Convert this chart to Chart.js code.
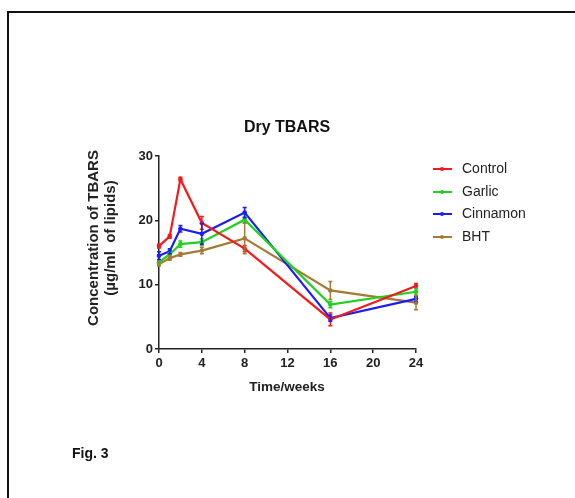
<!DOCTYPE html>
<html><head><meta charset="utf-8">
<script src="https://cdn.jsdelivr.net/npm/chart.js@4/dist/chart.umd.min.js"></script>
<style>
html,body{margin:0;padding:0;background:#fff;width:575px;height:498px;overflow:hidden;font-family:"Liberation Sans",Arial,sans-serif;}
#frame{position:absolute;left:7px;top:11px;width:620px;height:620px;border:2px solid #111;box-sizing:border-box;}
#wrap{position:absolute;left:0;top:0;width:575px;height:498px;}
.t{position:absolute;white-space:pre;color:#111;}
#title{left:287px;top:127px;transform:translate(-50%,-50%);font-weight:bold;font-size:16px;}
#xt{left:287px;top:386px;transform:translate(-50%,-50%);font-weight:bold;font-size:13.5px;color:#222;}
#yt{left:101px;top:238px;transform:translate(-50%,-50%) rotate(-90deg);font-weight:bold;font-size:15px;text-align:center;line-height:17px;color:#222;}
#fig{left:72px;top:453px;transform:translateY(-50%);font-weight:bold;font-size:14px;}
.lg{position:absolute;left:433px;height:16px;transform:translateY(-50%);font-size:14px;color:#222;}
.lg .ln{position:absolute;left:0;top:7px;width:19px;height:2px;}
.lg .dt{position:absolute;left:7px;top:6px;width:4px;height:4px;border-radius:2px;}
.lg .tx{position:absolute;left:29px;top:-1px;white-space:pre;}
</style></head>
<body>
<div id="frame"></div>
<div id="wrap"><canvas id="c" width="575" height="498"></canvas></div>
<div class="t" id="title">Dry TBARS</div>
<div class="t" id="xt">Time/weeks</div>
<div class="t" id="yt">Concentration of TBARS
(µg/ml  of lipids)</div>
<div class="t" id="fig">Fig. 3</div>
<div id="legend"></div>
<script>
const weeks = [0, 1, 2, 4, 8, 16, 24];
const seriesNames = ["Control", "Garlic", "Cinnamon", "BHT"];
const control  = [16.0, 17.5, 26.4, 19.6, 15.6, 4.6, 9.8];
const garlic   = [13.5, 14.7, 16.3, 16.6, 20.1, 6.9, 8.9];
const cinnamon = [14.5, 15.2, 18.7, 17.9, 21.2, 4.8, 7.8];
const bht      = [13.2, 14.1, 14.7, 15.3, 17.2, 9.1, 7.2];
const controlErr  = [0.3, 0.3, 0.3, 1.0, 0.5, 1.0, 0.4];
const garlicErr   = [0.3, 0.3, 0.5, 0.5, 0.5, 0.5, 0.5];
const cinnamonErr = [0.6, 0.4, 0.5, 1.6, 0.8, 0.5, 0.4];
const bhtErr      = [0.3, 0.3, 0.3, 0.5, 2.4, 1.4, 1.1];
const yTicks = [0, 10, 20, 30];
const xTicks = [0, 4, 8, 12, 16, 20, 24];
const colors = ["#f01c1c", "#1ed21e", "#1c1cf5", "#a57a35"];

const values = [control, garlic, cinnamon, bht];
const errs = [controlErr, garlicErr, cinnamonErr, bhtErr];

const datasets = seriesNames.map((n, i) => ({
  label: n,
  data: weeks.map((w, j) => ({x: w, y: values[i][j]})),
  err: errs[i],
  borderColor: colors[i],
  backgroundColor: colors[i],
  borderWidth: 2.2,
  pointRadius: 2.3,
  pointBorderWidth: 0,
  tension: 0,
  clip: false
}));

const errorBars = {
  id: 'errorBars',
  afterDatasetsDraw(chart) {
    const ctx = chart.ctx, ys = chart.scales.y;
    chart.data.datasets.forEach((ds, i) => {
      const meta = chart.getDatasetMeta(i);
      ctx.save();
      ctx.strokeStyle = ds.borderColor;
      ctx.lineWidth = 1.5;
      meta.data.forEach((pt, j) => {
        const v = ds.data[j].y, e = ds.err[j];
        const yt = ys.getPixelForValue(v + e), yb = ys.getPixelForValue(v - e);
        ctx.beginPath();
        ctx.moveTo(pt.x, yt); ctx.lineTo(pt.x, yb);
        ctx.moveTo(pt.x - 2, yt); ctx.lineTo(pt.x + 2, yt);
        ctx.moveTo(pt.x - 2, yb); ctx.lineTo(pt.x + 2, yb);
        ctx.stroke();
      });
      ctx.restore();
    });
  }
};

const tickFont = {family: "'Liberation Sans', Arial, sans-serif", size: 13, weight: 'bold'};
new Chart(document.getElementById('c'), {
  type: 'line',
  data: {datasets},
  plugins: [errorBars],
  options: {
    responsive: false,
    animation: false,
    events: [],
    layout: {padding: {left: 0, top: 156, right: 159, bottom: 129}},
    plugins: {legend: {display: false}, title: {display: false}, tooltip: {enabled: false}},
    scales: {
      x: {
        type: 'linear', min: 0, max: 24,
        afterFit(s) { s.height = 20; },
        afterBuildTicks(s) { s.ticks = xTicks.map(v => ({value: v})); },
        ticks: {font: tickFont, color: '#222', padding: 3, maxRotation: 0, autoSkip: false},
        grid: {display: true, drawOnChartArea: false, drawTicks: true, tickLength: 4, color: '#222', lineWidth: 1.5},
        border: {display: true, color: '#222', width: 1.5}
      },
      y: {
        type: 'linear', min: 0, max: 30,
        afterFit(s) { s.width = 159; },
        afterBuildTicks(s) { s.ticks = yTicks.map(v => ({value: v})); },
        ticks: {font: tickFont, color: '#222', padding: 2},
        grid: {display: true, drawOnChartArea: false, drawTicks: true, tickLength: 4, color: '#222', lineWidth: 1.5},
        border: {display: true, color: '#222', width: 1.5}
      }
    }
  }
});

const lgTops = [169, 192, 214, 237];
const lg = document.getElementById('legend');
seriesNames.forEach((n, i) => {
  const d = document.createElement('div');
  d.className = 'lg';
  d.style.top = lgTops[i] + 'px';
  d.innerHTML = '<div class="ln" style="background:' + colors[i] + '"></div><div class="dt" style="background:' + colors[i] + '"></div><div class="tx">' + n + '</div>';
  lg.appendChild(d);
});
</script>
</body></html>
